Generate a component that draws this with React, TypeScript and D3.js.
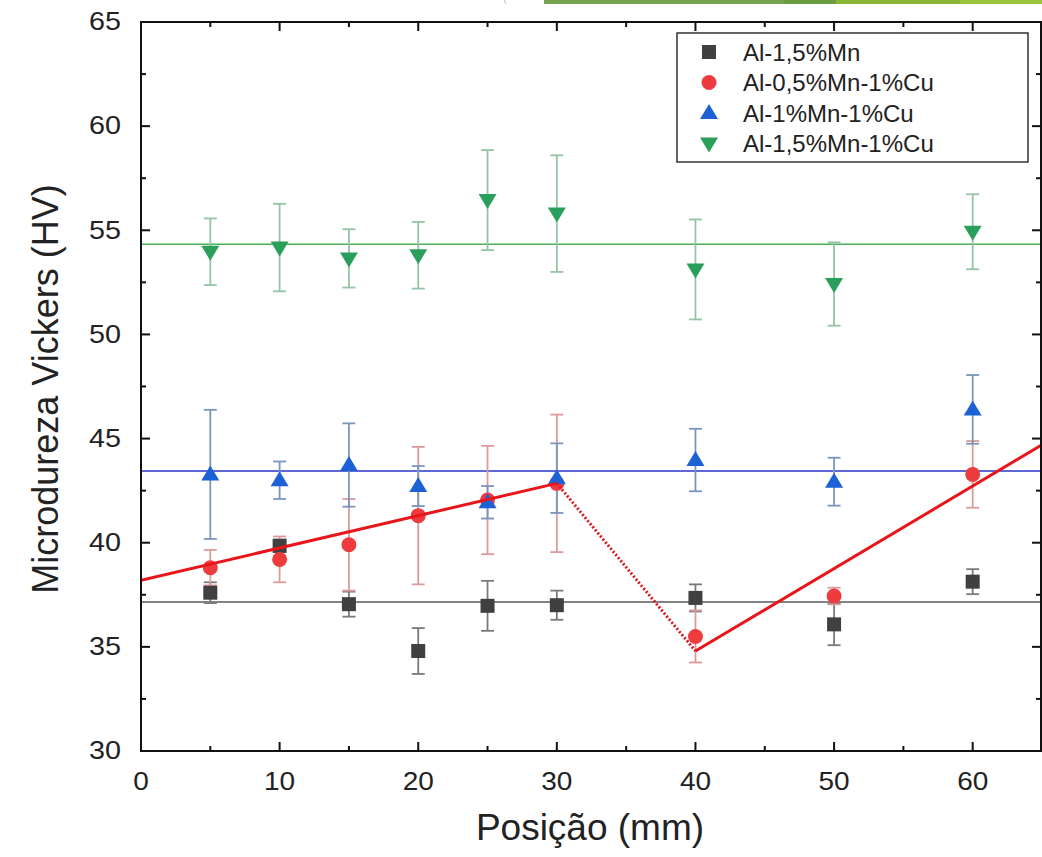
import React from 'react';
import * as d3 from 'd3';

// posições de medição (mm)
const positions = [5, 10, 15, 20, 25, 30, 40, 50, 60];

const mn15 = [37.6, 39.85, 37.05, 34.8, 36.97, 37.0, 37.35, 36.08, 38.13];
const mn15Err = [0.5, 0.3, 0.6, 1.1, 1.2, 0.7, 0.65, 1.0, 0.6];
const mn05cu = [38.8, 39.2, 39.9, 41.3, 42.05, 42.85, 35.5, 37.44, 43.28];
const mn05cuErr = [0.85, 1.1, 2.2, 3.3, 2.6, 3.3, 1.25, 0.4, 1.6];
const mn1cu = [43.28, 43.0, 43.73, 42.72, 41.94, 43.1, 43.97, 42.93, 46.4];
const mn1cuErr = [3.1, 0.9, 2.0, 0.96, 0.78, 1.67, 1.5, 1.15, 1.65];
const mn15cu = [53.97, 54.17, 53.65, 53.8, 56.45, 55.8, 53.12, 52.42, 54.93];
const mn15cuErr = [1.6, 2.1, 1.4, 1.6, 2.4, 2.8, 2.4, 2.0, 1.8];

// linhas de média (horizontais)
const meanLines = [
  { value: 37.15, color: '#5a5a5a' },
  { value: 43.44, color: '#2a35c8' },
  { value: 54.33, color: '#4cae55' },
];

// ajustes lineares da liga Al-0,5%Mn-1%Cu
const redFit1 = [[0, 38.2], [30, 42.85]];
const redDotted = [[30, 42.85], [40, 34.8]];
const redFit2 = [[40, 34.8], [65, 44.7]];

const xTicks = [0, 10, 20, 30, 40, 50, 60];
const yTicks = [30, 35, 40, 45, 50, 55, 60, 65];

const series = [
  { name: 'Al-1,5%Mn', values: mn15, errs: mn15Err, shape: 'square', color: '#404040', errColor: '#7a7a7a' },
  { name: 'Al-0,5%Mn-1%Cu', values: mn05cu, errs: mn05cuErr, shape: 'circle', color: '#ee3b3d', errColor: '#dc9a9a' },
  { name: 'Al-1%Mn-1%Cu', values: mn1cu, errs: mn1cuErr, shape: 'up', color: '#1c62d6', errColor: '#7b95bd' },
  { name: 'Al-1,5%Mn-1%Cu', values: mn15cu, errs: mn15cuErr, shape: 'down', color: '#2a9f5c', errColor: '#93c4a6' },
];

const FONT = '"Liberation Sans", Arial, sans-serif';

const Marker = ({ shape, cx, cy, color }) => {
  if (shape === 'square') return <rect x={cx - 7} y={cy - 7} width={14} height={14} fill={color} />;
  if (shape === 'circle') return <circle cx={cx} cy={cy} r={7.5} fill={color} />;
  if (shape === 'up')
    return <path d={`M${cx},${cy - 9}L${cx + 9},${cy + 6}L${cx - 9},${cy + 6}Z`} fill={color} />;
  return <path d={`M${cx},${cy + 9}L${cx + 9},${cy - 6}L${cx - 9},${cy - 6}Z`} fill={color} />;
};

export default function App() {
  const width = 1042;
  const height = 857;
  const left = 141, right = 1042, top = 22, bottom = 751;

  const x = d3.scaleLinear().domain([0, 65]).range([left, right]);
  const y = d3.scaleLinear().domain([30, 65]).range([bottom, top]);
  const line = d3.line().x(d => x(d[0])).y(d => y(d[1]));

  const xMinor = d3.range(5, 65, 10);
  const yMinor = d3.range(32.5, 65, 5);

  return (
    <svg width={width} height={height} style={{ position: 'absolute', left: 0, top: 0, background: '#fff' }}
      fontFamily={FONT}>
      <rect width={width} height={height} fill="#fff" />
      {/* faixa verde no topo da imagem original */}
      <rect x={544} y={0} width={240} height={4} fill="#76a253" />
      <rect x={784} y={0} width={52} height={4} fill="#6c9e40" />
      <rect x={836} y={0} width={124} height={4} fill="#87b733" />
      <rect x={960} y={0} width={82} height={4} fill="#9ac43e" />
      <line x1={504} y1={0} x2={506} y2={4} stroke="#bbb" strokeWidth={1} />

      <defs>
        <clipPath id="plot">
          <rect x={left} y={top} width={right - left} height={bottom - top} />
        </clipPath>
      </defs>

      <g clipPath="url(#plot)">
        {meanLines.map((m, i) => (
          <line key={i} x1={left} x2={right} y1={y(m.value)} y2={y(m.value)} stroke={m.color} strokeWidth={1.5} />
        ))}

        {series.map((s, si) => (
          <g key={si}>
            {positions.map((p, i) => {
              const cx = x(p);
              const y0 = y(s.values[i] - s.errs[i]);
              const y1 = y(s.values[i] + s.errs[i]);
              return (
                <g key={i} stroke={s.errColor} strokeWidth={1.8}>
                  <line x1={cx} x2={cx} y1={y0} y2={y1} />
                  <line x1={cx - 6.5} x2={cx + 6.5} y1={y0} y2={y0} />
                  <line x1={cx - 6.5} x2={cx + 6.5} y1={y1} y2={y1} />
                </g>
              );
            })}
          </g>
        ))}

        {series.map((s, si) => (
          <g key={si}>
            {positions.map((p, i) => (
              <Marker key={i} shape={s.shape} cx={x(p)} cy={y(s.values[i])} color={s.color} />
            ))}
          </g>
        ))}

        <path d={line(redFit1)} stroke="#e8161b" strokeWidth={3} fill="none" />
        <path d={line(redDotted)} stroke="#d81820" strokeWidth={3} strokeDasharray="2,2" fill="none" />
        <path d={line(redFit2)} stroke="#e8161b" strokeWidth={3} fill="none" />
      </g>

      {/* moldura e marcações */}
      <g stroke="#111" strokeWidth={2}>
        <rect x={left} y={top} width={right - left - 1} height={bottom - top} fill="none" />
        {xTicks.map(t => (
          <g key={t}>
            <line x1={x(t)} x2={x(t)} y1={bottom} y2={bottom - 9} />
            <line x1={x(t)} x2={x(t)} y1={top} y2={top + 9} />
          </g>
        ))}
        {xMinor.map(t => (
          <g key={t}>
            <line x1={x(t)} x2={x(t)} y1={bottom} y2={bottom - 5} />
            <line x1={x(t)} x2={x(t)} y1={top} y2={top + 5} />
          </g>
        ))}
        {yTicks.map(t => (
          <g key={t}>
            <line x1={left} x2={left + 9} y1={y(t)} y2={y(t)} />
            <line x1={right - 1} x2={right - 10} y1={y(t)} y2={y(t)} />
          </g>
        ))}
        {yMinor.map(t => (
          <g key={t}>
            <line x1={left} x2={left + 5} y1={y(t)} y2={y(t)} />
            <line x1={right - 1} x2={right - 6} y1={y(t)} y2={y(t)} />
          </g>
        ))}
      </g>

      <g fontSize={25} fill="#222">
        {xTicks.map(t => (
          <text key={t} transform={`translate(${x(t)},790) scale(1.12,1)`} textAnchor="middle">{t}</text>
        ))}
        {yTicks.map(t => (
          <text key={t} transform={`translate(121,${y(t)}) scale(1.15,1)`} textAnchor="end"
            dominantBaseline="central">{t}</text>
        ))}
      </g>

      <text x={590} y={840} textAnchor="middle" fontSize={37} fill="#222">Posição (mm)</text>
      <text transform="translate(45,389) rotate(-90)" textAnchor="middle" dominantBaseline="central"
        fontSize={36} fill="#222">Microdureza Vickers (HV)</text>

      {/* legenda */}
      <g>
        <rect x={677} y={33} width={351} height={129} fill="#fff" stroke="#333" strokeWidth={1.5} />
        {series.map((s, i) => (
          <g key={i}>
            <Marker shape={s.shape} cx={709} cy={52 + i * 30.5} color={s.color} />
            <text x={743} y={52 + i * 30.5} dominantBaseline="central" fontSize={24} fill="#222">{s.name}</text>
          </g>
        ))}
      </g>
    </svg>
  );
}
